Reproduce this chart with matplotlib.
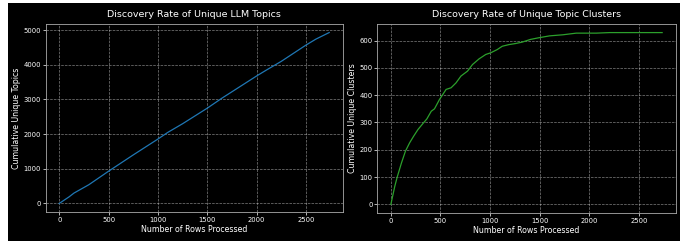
import matplotlib.pyplot as plt
import numpy as np
from matplotlib.patches import Rectangle

# %% data
rows_topics = [0, 100, 150, 300, 500, 750, 1000, 1100, 1250, 1500, 1650, 2000, 2100, 2250, 2500, 2600, 2735]
cum_topics = [0, 190, 300, 540, 930, 1400, 1858, 2050, 2300, 2749, 3040, 3678, 3850, 4100, 4569, 4740, 4930]

rows_clusters = [0, 40, 63, 107, 147, 190, 230, 273, 323, 363, 407, 440, 490, 557, 607, 657,
                 707, 773, 823, 890, 957, 1007, 1073, 1123, 1190, 1257, 1323, 1407, 1490,
                 1600, 1735, 1869, 2070, 2205, 2735]
cum_clusters = [0, 67, 99, 152, 195, 226, 250, 274, 296, 313, 341, 350, 384, 421, 427, 445,
                470, 488, 512, 533, 549, 555, 567, 579, 585, 589, 594, 604, 610,
                617, 621, 627, 627, 629, 629]

# %% plot
plt.style.use("dark_background")
fig = plt.figure(figsize=(6.88, 2.44), dpi=100, facecolor="white")
fig.patches.append(Rectangle((8 / 688, 3 / 244), 672 / 688, 238 / 244,
                             transform=fig.transFigure, facecolor="black", zorder=-1))

ax1 = fig.add_axes([45.7 / 688, 1 - 212 / 244, 297 / 688, 188 / 244])
ax2 = fig.add_axes([377.3 / 688, 1 - 213 / 244, 298.4 / 688, 189 / 244])

panels = [
    (ax1, rows_topics, cum_topics, "tab:blue",
     "Discovery Rate of Unique LLM Topics", "Cumulative Unique Topics"),
    (ax2, rows_clusters, cum_clusters, "tab:green",
     "Discovery Rate of Unique Topic Clusters", "Cumulative Unique Clusters"),
]

for ax, x, y, color, title, ylabel in panels:
    ax.set_facecolor("black")
    ax.plot(x, y, color=color, lw=0.9)
    ax.set_title(title, fontsize=6.8, pad=5)
    ax.set_xlabel("Number of Rows Processed", fontsize=5.7, labelpad=1.5)
    ax.set_ylabel(ylabel, fontsize=5.7, labelpad=2)
    ax.grid(True, linestyle="--", alpha=0.5, lw=0.5)
    ax.tick_params(labelsize=4.9, width=0.5, length=2, pad=1.5)
    ax.set_xticks([0, 500, 1000, 1500, 2000, 2500])
    for s in ax.spines.values():
        s.set_color("#aaaaaa")
        s.set_linewidth(0.6)

ax1.set_yticks([0, 1000, 2000, 3000, 4000, 5000])
ax2.set_yticks([0, 100, 200, 300, 400, 500, 600])

fig.savefig("out.png", dpi=100, facecolor="white")
